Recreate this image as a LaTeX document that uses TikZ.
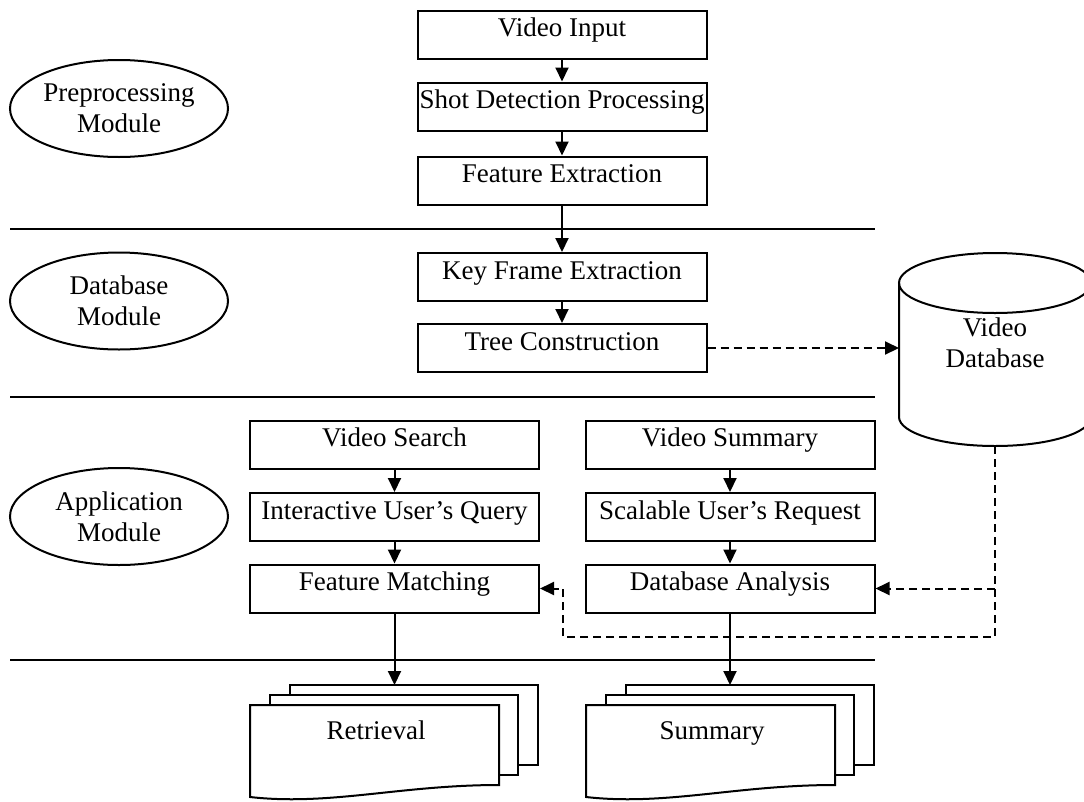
\documentclass[tikz,border=0pt]{standalone}
\usepackage{fontspec}
\setmainfont{Liberation Serif}
\usetikzlibrary{arrows.meta,shapes.geometric}
\begin{document}
\begin{tikzpicture}[x=1pt,y=-1pt,
  every node/.style={font=\fontsize{27}{31}\selectfont},
  lw/.style={line width=2pt},
  evenline/.style={text height=0.7em,text depth=0.22em},
  stepbox/.style={lw,draw,rectangle,minimum width=289pt,minimum height=48pt,inner sep=0pt,evenline},
  modell/.style={lw,draw,ellipse,minimum width=218pt,minimum height=97pt,inner sep=0pt,align=center},
  arr/.style={lw,-{Triangle[length=14pt,width=13pt]}},
  dsh/.style={lw,dash pattern=on 8pt off 5pt},
  sep/.style={lw},
  page/.style={lw,draw,fill=white,line join=miter}
]
\useasboundingbox (0,0) rectangle (1084,801);

% module ellipses
\node[modell] (pre) at (119,108.5) {Preprocessing\\Module};
\node[modell] (dbm) at (119,301) {Database\\Module};
\node[modell] (app) at (119,516.5) {Application\\Module};

% separators
\coordinate (s1a) at (10,228.5); \coordinate (s1b) at (875,228.5);
\coordinate (s2a) at (10,397);   \coordinate (s2b) at (875,397);
\coordinate (s3a) at (10,660);   \coordinate (s3b) at (875,660);
\draw[sep] (s1a) -- (s1b);
\draw[sep] (s2a) -- (s2b);
\draw[sep] (s3a) -- (s3b);

% main column
\node[stepbox] (vi) at (562,34.5) {Video Input};
\node[stepbox] (sd) at (562,106.5) {Shot Detection Processing};
\node[stepbox] (fe) at (562,180.5) {Feature Extraction};
\node[stepbox] (kf) at (562,277) {Key Frame Extraction};
\node[stepbox] (tc) at (562,348) {Tree Construction};

% application columns
\node[stepbox] (vs) at (394.5,444.5) {Video Search};
\node[stepbox] (iq) at (394.5,517) {Interactive User’s Query};
\node[stepbox] (fm) at (394.5,588.5) {Feature Matching};
\node[stepbox] (vsum) at (730,444.5) {Video Summary};
\node[stepbox] (sr) at (730,517) {Scalable User’s Request};
\node[stepbox] (da) at (730,588.5) {Database Analysis};

% cylinder
\draw[lw,fill=white] (899,283) -- (899,417) arc[start angle=180,end angle=360,x radius=96pt,y radius=29pt] -- (1091,283);
\draw[lw] (995,283) ellipse[x radius=96pt,y radius=30pt];
\node[align=center] (db) at (995,343) {Video\\Database};
\coordinate (dbw) at (899,348);
\coordinate (dbb) at (995,446);

% document stacks
\begin{scope}[shift={(0,0)}]
  \draw[page] (290,685) -- (538,685) -- (538,765) -- (290,765) -- cycle;
  \draw[page] (270,695) -- (518,695) -- (518,775) -- (270,775) -- cycle;
  \draw[page] (250,705) -- (499,705) -- (499,785) .. controls (400,785) and (330,806) .. (250,797) -- cycle;
  \node[evenline] (ret) at (376,737) {Retrieval};
  \coordinate (rettop) at (394.5,685);
\end{scope}
\begin{scope}[shift={(336,0)}]
  \draw[page] (290,685) -- (538,685) -- (538,765) -- (290,765) -- cycle;
  \draw[page] (270,695) -- (518,695) -- (518,775) -- (270,775) -- cycle;
  \draw[page] (250,705) -- (499,705) -- (499,785) .. controls (400,785) and (330,806) .. (250,797) -- cycle;
  \node[evenline] (sum) at (376,737) {Summary};
  \coordinate (sumtop) at (394,685);
\end{scope}

% solid arrows
\draw[arr] (vi) -- (sd);
\draw[arr] (sd) -- (fe);
\draw[arr] (fe) -- (kf);
\draw[arr] (kf) -- (tc);
\draw[arr] (vs) -- (iq);
\draw[arr] (iq) -- (fm);
\draw[arr] (vsum) -- (sr);
\draw[arr] (sr) -- (da);
\draw[arr] (fm.south) -- (rettop);
\draw[arr] (da.south) -- (sumtop);

% dashed arrows
\coordinate (c1) at (995,637);
\coordinate (c2) at (563,637);
\draw[dsh,arr] (tc.east) -- (dbw);
\draw[dsh,arr] (dbb) -- (c1) -- (c2) -- (c2 |- fm.east) -- (fm.east);
\draw[dsh,arr] (dbb |- da.east) -- (da.east);
\end{tikzpicture}
\end{document}
